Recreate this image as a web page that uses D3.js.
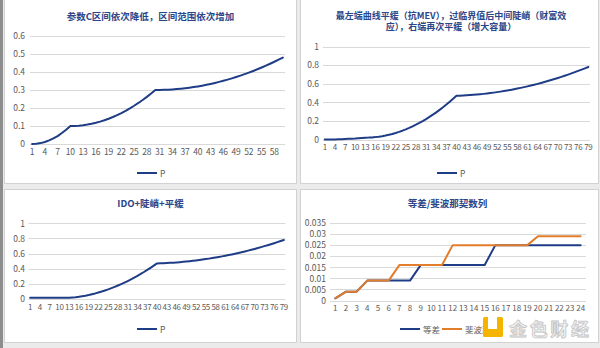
<!DOCTYPE html>
<html><head><meta charset="utf-8">
<script src="https://cdn.jsdelivr.net/npm/d3@7"></script>
<style>
html,body{margin:0;padding:0;background:#ebebeb;}
svg{display:block;}
text{font-family:"Noto Sans CJK SC","Noto Sans",sans-serif;}
</style></head><body>
<svg id="c" width="600" height="348"></svg>
<script>
// ---------- data ----------
const categories1 = d3.range(1, 61);
const values1 = [0,0.001,0.005,0.011,0.020,0.031,0.044,0.061,0.079,0.100,
  0.1005,0.102,0.1045,0.108,0.1125,0.118,0.1245,0.132,0.1405,0.150,
  0.1605,0.172,0.1845,0.198,0.2125,0.228,0.2445,0.262,0.2805,0.300,
  0.3002,0.3008,0.3018,0.3032,0.305,0.3072,0.3098,0.3128,0.3162,0.320,
  0.3242,0.3288,0.3338,0.3392,0.345,0.3512,0.3578,0.3648,0.3722,0.380,
  0.3882,0.3968,0.4058,0.4152,0.425,0.4352,0.4458,0.4568,0.4682,0.480];
const xTicks1 = [1,4,7,10,13,16,19,22,25,28,31,34,37,40,43,46,49,52,55,58];
const yTicks1 = [0,0.1,0.2,0.3,0.4,0.5,0.6];

const categories2 = d3.range(1, 80);
const values2 = [0,0.0002,0.0006,0.0013,0.0022,0.0035,0.005,0.0068,0.009,0.011,0.014,0.017,0.020,
  0.0206,0.0225,0.0256,0.0299,0.0354,0.0422,0.0502,0.0595,0.070,0.0817,0.0947,0.1089,0.1243,0.141,
  0.1589,0.178,0.1984,0.220,0.2428,0.2669,0.2922,0.3188,0.3465,0.3756,0.4058,0.4373,0.470,
  0.4714,0.4731,0.4751,0.4775,0.4803,0.4834,0.4868,0.4906,0.4948,0.4992,0.5041,0.5093,0.5148,
  0.5206,0.5269,0.5334,0.5403,0.5476,0.5552,0.5631,0.5714,0.5801,0.5891,0.5984,0.6081,0.6181,
  0.6285,0.6392,0.6503,0.6617,0.6734,0.6856,0.698,0.7108,0.724,0.7374,0.7513,0.7655,0.780];
const xTicks2 = [1,4,7,10,13,16,19,22,25,28,31,34,37,40,43,46,49,52,55,58,61,64,67,70,73,76,79];
const yTicks2 = [0,0.2,0.4,0.6,0.8,1];

const categories3 = d3.range(1, 80);
const values3 = [0.015,0.015,0.015,0.015,0.015,0.015,0.015,0.015,0.015,0.015,0.015,0.015,0.015,
  0.0189,0.0237,0.0296,0.0365,0.0443,0.0532,0.0631,0.0739,0.0858,0.0986,0.1125,0.1273,0.1432,0.1601,
  0.1779,0.1968,0.2166,0.2374,0.2593,0.2821,0.306,0.3308,0.3567,0.3835,0.4113,0.4402,0.470,
  0.4714,0.4731,0.4751,0.4775,0.4803,0.4834,0.4868,0.4906,0.4948,0.4992,0.5041,0.5093,0.5148,
  0.5206,0.5269,0.5334,0.5403,0.5476,0.5552,0.5631,0.5714,0.5801,0.5891,0.5984,0.6081,0.6181,
  0.6285,0.6392,0.6503,0.6617,0.6734,0.6856,0.698,0.7108,0.724,0.7374,0.7513,0.7655,0.780];
const xTicks3 = xTicks2;
const yTicks3 = [0,0.2,0.4,0.6,0.8,1];

const categories4 = d3.range(1, 25);
const arithmetic4 = [0.001,0.004,0.004,0.009,0.009,0.009,0.009,0.009,0.016,0.016,0.016,0.016,
  0.016,0.016,0.016,0.025,0.025,0.025,0.025,0.025,0.025,0.025,0.025,0.025];
const fibonacci4 = [0.001,0.004,0.004,0.009,0.009,0.009,0.016,0.016,0.016,0.016,0.016,0.025,
  0.025,0.025,0.025,0.025,0.025,0.025,0.025,0.029,0.029,0.029,0.029,0.029];
const xTicks4 = categories4;
const yTicks4 = [0,0.005,0.01,0.015,0.02,0.025,0.03,0.035];
const seriesNames4 = ["等差","斐波那契"];

// ---------- drawing ----------
const BLUE = "#1f3c86", ORANGE = "#e27d2c", TITLE = "#2a4588", LABEL = "#5a5a5a", GRID = "#d9d9d9";
const FONT = '"Noto Sans CJK SC","Noto Sans",sans-serif';
const svg = d3.select("#c");

// left dark strip
svg.append("rect").attr("x",0).attr("y",0).attr("width",3).attr("height",348).attr("fill","#8d8d8d");
// panels
[[4,-2,292,185],[300,-2,298,185],[4,189,292,153],[300,189,298,153]].forEach(p=>{
  svg.append("rect").attr("x",p[0]+0.5).attr("y",p[1]+0.5).attr("width",p[2]).attr("height",p[3])
    .attr("fill","#fff").attr("stroke","#d2d2d2");
});

function lineChart(o) {
  const g = svg.append("g");
  const x = d3.scaleBand().domain(o.cats).range(o.xr);
  const y = d3.scaleLinear().domain(o.yd).range(o.yr);
  const cx = c => x(c) + x.bandwidth()/2;
  // grid
  g.append("g").selectAll("line").data(o.yTicks).join("line")
    .attr("x1", o.xr[0]).attr("x2", o.xr[1])
    .attr("y1", d => Math.round(y(d))+0.5).attr("y2", d => Math.round(y(d))+0.5)
    .attr("stroke", GRID).attr("stroke-width", 1);
  // y axis labels
  const ya = g.append("g").attr("transform", `translate(${o.yLabelX},0)`)
    .call(d3.axisLeft(y).tickValues(o.yTicks).tickFormat(d => String(d)).tickSize(0).tickPadding(0));
  ya.select(".domain").remove();
  ya.selectAll("text").attr("fill", LABEL).attr("font-size", 8.5).attr("font-family", FONT);
  // x axis labels
  const xa = g.append("g").attr("transform", `translate(0,${o.yr[0]})`)
    .call(d3.axisBottom(x).tickValues(o.xTicks).tickSize(0).tickPadding(o.xPad || 5));
  xa.select(".domain").remove();
  xa.selectAll("text").attr("fill", LABEL).attr("font-size", o.xFont || 8.5)
    .attr("letter-spacing", o.xLs || 0).attr("font-family", FONT);
  // series
  o.series.forEach(s => {
    g.append("path").datum(s.values)
      .attr("d", d3.line().x((d,i) => cx(o.cats[i])).y(d => y(d)))
      .attr("fill","none").attr("stroke", s.color).attr("stroke-width", 2)
      .attr("stroke-linejoin","round").attr("stroke-linecap","round");
  });
  // title
  o.title.forEach((t,i) => {
    g.append("text").attr("x", o.titleX).attr("y", o.titleY + i*11.5).attr("text-anchor","middle")
      .attr("fill", TITLE).attr("font-size", o.titleSize || 9.5).attr("font-weight","bold").text(t);
  });
  // legend
  o.legend.forEach(l => {
    g.append("line").attr("x1", l.x).attr("x2", l.x+20).attr("y1", o.legendY).attr("y2", o.legendY)
      .attr("stroke", l.color).attr("stroke-width", 2);
    g.append("text").attr("x", l.x+23).attr("y", o.legendY+3.5).attr("fill", LABEL)
      .attr("font-size", 8.5).text(l.name);
  });
}

lineChart({cats: categories1, xr:[30,285], yd:[0,0.6], yr:[144,36], yTicks: yTicks1, xTicks: xTicks1,
  yLabelX: 25, series:[{values: values1, color: BLUE}],
  title:["参数C区间依次降低，区间范围依次增加"], titleX:150.5, titleY:19.5,
  legend:[{x:137, color:BLUE, name:"P"}], legendY:173});

lineChart({cats: categories2, xr:[323,590], yd:[0,1], yr:[139.5,46.5], yTicks: yTicks2, xTicks: xTicks2,
  yLabelX: 319, xFont: 8, xLs: -0.3, series:[{values: values2, color: BLUE}],
  title:["最左端曲线平缓（抗MEV），过临界值后中间陡峭（财富效","应），右端再次平缓（增大容量）"],
  titleX:451, titleY:18.5, titleSize: 9,
  legend:[{x:437, color:BLUE, name:"P"}], legendY:173});

lineChart({cats: categories3, xr:[28.5,285.5], yd:[0,1], yr:[299,223.3], yTicks: yTicks3, xTicks: xTicks3,
  yLabelX: 25, xFont: 8, xLs: -0.3, series:[{values: values3, color: BLUE}],
  title:["IDO+陡峭+平缓"], titleX:150.5, titleY:206.5,
  legend:[{x:137, color:BLUE, name:"P"}], legendY:329});

lineChart({cats: categories4, xr:[330,586], yd:[0,0.035], yr:[300.5,223], yTicks: yTicks4, xTicks: xTicks4,
  yLabelX: 326, xFont: 8, series:[{values: arithmetic4, color: BLUE},{values: fibonacci4, color: ORANGE}],
  title:["等差/斐波那契数列"], titleX:447.5, titleY:206.5,
  legend:[{x:400, color:BLUE, name:seriesNames4[0]},{x:442, color:ORANGE, name:seriesNames4[1]}], legendY:329});

// watermark
const wm = svg.append("g");
wm.append("rect").attr("x",483).attr("y",317).attr("width",20).attr("height",20).attr("rx",1.5).attr("fill","#f4b400");
wm.append("rect").attr("x",488).attr("y",317).attr("width",9).attr("height",12).attr("fill","#fff");
wm.append("text").attr("x",509).attr("y",336).attr("font-size",18).attr("font-weight","bold")
  .attr("textLength",80).attr("fill","#f2f2f2").attr("stroke","#c4c4c4").attr("stroke-width",0.8).text("金色财经");
</script>
</body></html>
